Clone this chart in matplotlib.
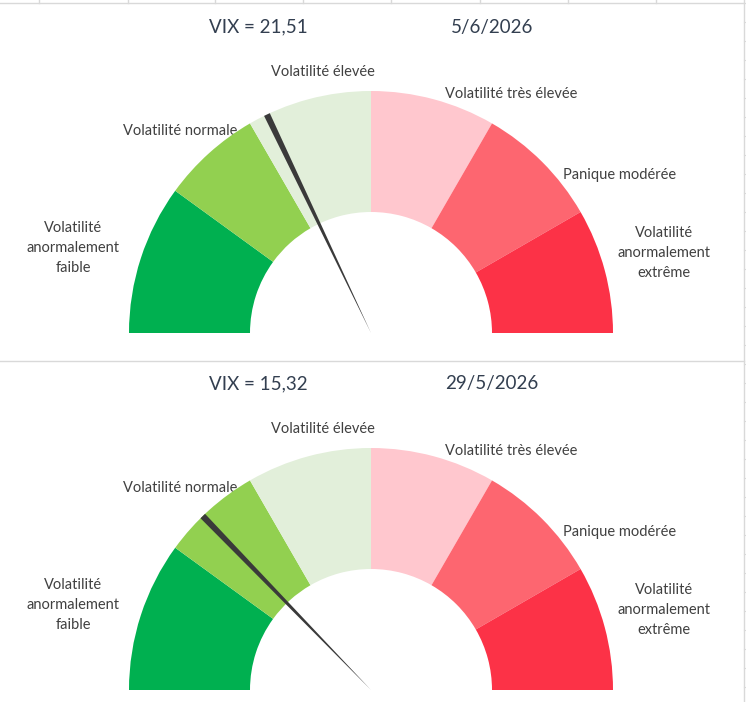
import matplotlib
matplotlib.use("Agg")
import matplotlib.pyplot as plt

plt.rcParams['font.family'] = ['Lato', 'DejaVu Sans']

# VIX zones (upper bound of each zone), gauge goes from 0 to 60
zone_edges = [0, 12, 20, 30, 40, 50, 60]
zone_labels = [
    "Volatilité\nanormalement\nfaible",
    "Volatilité normale",
    "Volatilité élevée",
    "Volatilité très élevée",
    "Panique modérée",
    "Volatilité\nanormalement\nextrême",
]
zone_colors = ["#00B050", "#92D050", "#E2EFDA", "#FFC7CE", "#FD6670", "#FC3247"]

vix_values = [21.51, 15.32]
vix_text = ["21,51", "15,32"]
dates = ["5/6/2026", "29/5/2026"]

W, H = 746, 702
CENTERS = [(371, 333), (371, 690)]   # gauge centres in pixels
R = 242
NEEDLE_W = 0.5

# label offsets from the gauge centre (pixels)
label_offsets = [(-298, -85), (-191, -202), (-48, -261), (140, -239), (249, -158), (293, -80)]
title_offsets = [(-113, -306), (121, -306)]

fig = plt.figure(figsize=(W / 100, H / 100), dpi=100)
fig.patch.set_facecolor("white")

# background axes in pixel coordinates, for the sheet gridlines and texts
bg = fig.add_axes([0, 0, 1, 1], zorder=0)
bg.set_xlim(0, W)
bg.set_ylim(H, 0)
bg.axis("off")

grid_c = "#D9D9D9"
bg.plot([0, 744], [3, 3], color=grid_c, lw=1)
for x in [39, 128, 215, 303, 391, 480, 568, 656]:
    bg.plot([x, x], [0, 3], color=grid_c, lw=1)
bg.plot([744, 744], [0, H], color=grid_c, lw=1)
for y in range(3, H, 19):
    bg.plot([744, W], [y, y], color=grid_c, lw=0.8)
bg.plot([0, 744], [361, 361], color=grid_c, lw=1)

total = zone_edges[-1]
sizes = [zone_edges[i + 1] - zone_edges[i] for i in range(len(zone_edges) - 1)]

for k, (cx, cy) in enumerate(CENTERS):
    ax = fig.add_axes([(cx - R) / W, (H - cy - R) / H, 2 * R / W, 2 * R / H], zorder=1)
    # ring: visible upper half + invisible lower half
    ax.pie(sizes + [total], colors=zone_colors + ["none"], startangle=180,
           counterclock=False, radius=1,
           wedgeprops=dict(width=0.5, linewidth=0, edgecolor="none"))
    # needle as a thin pie slice
    v = vix_values[k]
    needle = [v - NEEDLE_W / 2, NEEDLE_W, 2 * total - v - NEEDLE_W / 2]
    ax.pie(needle, colors=["none", "#3A3A3A", "none"], startangle=180,
           counterclock=False, radius=1,
           wedgeprops=dict(linewidth=0, edgecolor="none"))
    ax.set_xlim(-1, 1)
    ax.set_ylim(-1, 1)
    ax.axis("off")

    for lab, (dx, dy) in zip(zone_labels, label_offsets):
        bg.text(cx + dx, cy + dy, lab, ha="center", va="center", fontsize=10.5,
                color="#404040", linespacing=1.55)

    bg.text(cx + title_offsets[0][0], cy + title_offsets[0][1], "VIX = " + vix_text[k],
            ha="center", va="center", fontsize=13.5, color="#333F50")
    bg.text(cx + title_offsets[1][0], cy + title_offsets[1][1], dates[k],
            ha="center", va="center", fontsize=13.5, color="#333F50")

fig.savefig("out.png", dpi=100)
